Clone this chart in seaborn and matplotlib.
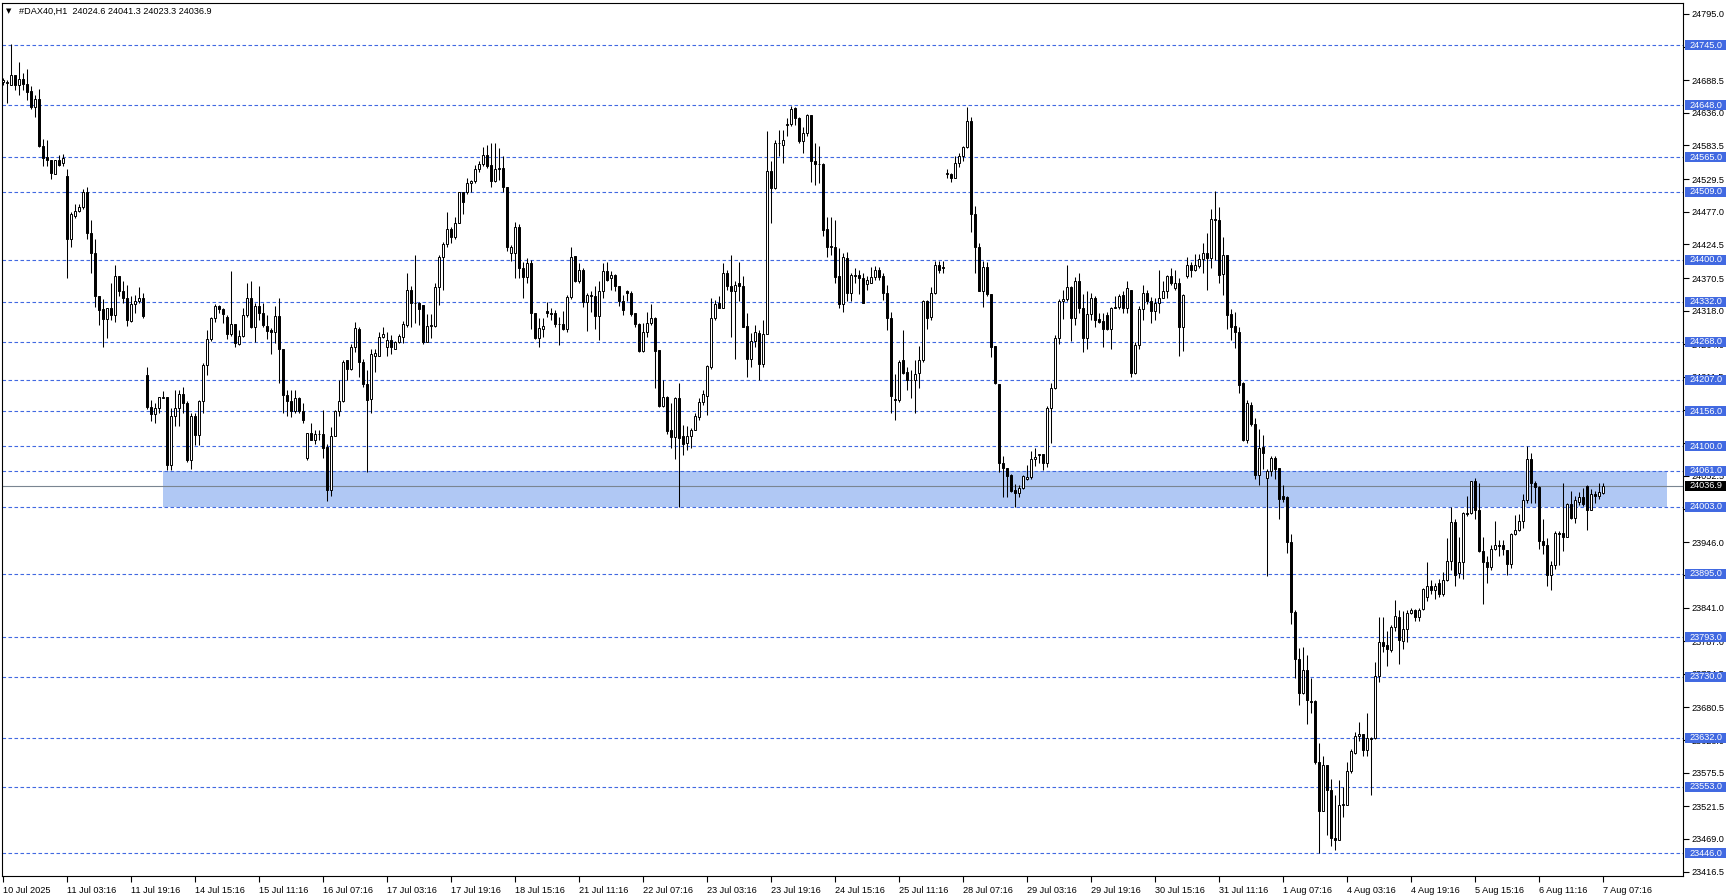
import matplotlib
matplotlib.use("Agg")
import matplotlib.pyplot as plt
import matplotlib.transforms as mtransforms
from matplotlib.patches import Rectangle
import seaborn as sns
import numpy as np
import pandas as pd

# hourly candles, #DAX40 H1 (10 Jul 2025 .. 7 Aug 2025)
opens = [
    24685, 24684, 24681, 24697, 24681, 24690, 24682, 24671, 24645, 24659,
    24582, 24565, 24560, 24538, 24560, 24555, 24534, 24434, 24470, 24479,
    24484, 24509, 24443, 24410, 24341, 24320, 24304, 24322, 24311, 24374,
    24350, 24338, 24302, 24329, 24334, 24338, 24215, 24163, 24152, 24161,
    24177, 24179, 24070, 24148, 24161, 24184, 24169, 24078, 24148, 24118,
    24173, 24231, 24272, 24307, 24326, 24320, 24308, 24280, 24297, 24264,
    24277, 24311, 24338, 24291, 24326, 24315, 24293, 24287, 24284, 24309,
    24256, 24183, 24173, 24156, 24177, 24156, 24082, 24121, 24111, 24120,
    24120, 24099, 24030, 24117, 24156, 24173, 24238, 24225, 24259, 24288,
    24236, 24200, 24176, 24245, 24245, 24275, 24259, 24271, 24257, 24268,
    24276, 24295, 24351, 24330, 24331, 24327, 24268, 24294, 24293, 24356,
    24404, 24425, 24449, 24436, 24459, 24509, 24509, 24524, 24527, 24545,
    24554, 24569, 24552, 24527, 24545, 24547, 24516, 24410, 24410, 24452,
    24386, 24372, 24395, 24314, 24274, 24289, 24318, 24314, 24315, 24296,
    24297, 24288, 24340, 24406, 24366, 24384, 24332, 24344, 24342, 24310,
    24349, 24381, 24370, 24375, 24358, 24334, 24349, 24346, 24314, 24296,
    24254, 24283, 24298, 24307, 24255, 24165, 24180, 24126, 24115, 24177,
    24116, 24105, 24116, 24127, 24147, 24172, 24181, 24228, 24307, 24330,
    24323, 24379, 24358, 24349, 24363, 24357, 24293, 24240, 24270, 24282,
    24233, 24280, 24543, 24515, 24587, 24584, 24616, 24618, 24643, 24627,
    24590, 24604, 24633, 24558, 24554, 24554, 24449, 24422, 24421, 24373,
    24329, 24402, 24346, 24375, 24375, 24370, 24361, 24363, 24372, 24383,
    24374, 24346, 24306, 24176, 24175, 24238, 24220, 24207, 24207, 24218,
    24238, 24333, 24308, 24346, 24391, 24388, 24538, 24538, 24532, 24555,
    24567, 24581, 24623, 24473, 24420, 24349, 24388, 24345, 24261, 24200,
    24073, 24066, 24054, 24030, 24025, 24033, 24047, 24050, 24079, 24086,
    24087, 24074, 24161, 24193, 24274, 24334, 24336, 24356, 24306, 24365,
    24322, 24274, 24313, 24338, 24304, 24302, 24311, 24288, 24323, 24324,
    24343, 24322, 24352, 24218, 24263, 24320, 24346, 24333, 24318, 24330,
    24338, 24349, 24374, 24354, 24363, 24291, 24373, 24391, 24383, 24390,
    24401, 24411, 24402, 24465, 24464, 24377, 24408, 24313, 24294, 24284,
    24201, 24110, 24167, 24136, 24054, 24099, 24049, 24060, 24081, 24066,
    24020, 24018, 23947, 23833, 23758, 23704, 23740, 23691, 23691, 23593,
    23514, 23588, 23547, 23471, 23468, 23523, 23524, 23578, 23607, 23634,
    23638, 23612, 23632, 23631, 23731, 23786, 23781, 23772, 23810, 23826,
    23787, 23806, 23832, 23837, 23825, 23839, 23858, 23875, 23869, 23880,
    23862, 23885, 23916, 23978, 23896, 23914, 23993, 23993, 24045, 23998,
    23932, 23914, 23906, 23935, 23941, 23941, 23934, 23911, 23959, 23966,
    23980, 24013, 24079, 24041, 24034, 23948, 23941, 23894, 23909, 23961,
    23961, 23955, 24007, 23985, 24011, 24018, 24036, 23998, 24023, 24020, 24024.6,
]
highs = [
    24692, 24689, 24746, 24697, 24717, 24700, 24706, 24679, 24665, 24674,
    24594, 24592, 24560, 24560, 24568, 24570, 24545, 24476, 24490, 24490,
    24513, 24517, 24464, 24434, 24341, 24336, 24322, 24362, 24391, 24374,
    24365, 24359, 24341, 24343, 24356, 24346, 24228, 24175, 24170, 24179,
    24189, 24179, 24161, 24191, 24191, 24195, 24173, 24153, 24154, 24175,
    24234, 24287, 24308, 24329, 24327, 24322, 24311, 24382, 24297, 24287,
    24322, 24362, 24366, 24330, 24357, 24330, 24311, 24290, 24325, 24338,
    24256, 24191, 24190, 24190, 24180, 24169, 24121, 24137, 24126, 24127,
    24158, 24103, 24131, 24158, 24206, 24239, 24239, 24265, 24300, 24292,
    24241, 24222, 24256, 24257, 24284, 24291, 24284, 24279, 24269, 24280,
    24302, 24378, 24357, 24408, 24332, 24327, 24313, 24313, 24363, 24408,
    24429, 24477, 24453, 24469, 24509, 24509, 24532, 24528, 24552, 24558,
    24581, 24584, 24587, 24588, 24579, 24566, 24517, 24424, 24460, 24458,
    24397, 24402, 24400, 24315, 24306, 24306, 24332, 24323, 24319, 24308,
    24318, 24343, 24421, 24406, 24394, 24386, 24347, 24349, 24358, 24366,
    24394, 24397, 24381, 24377, 24358, 24343, 24352, 24349, 24314, 24299,
    24299, 24316, 24329, 24308, 24255, 24207, 24181, 24169, 24180, 24201,
    24134, 24133, 24130, 24154, 24177, 24191, 24231, 24338, 24335, 24342,
    24394, 24383, 24407, 24365, 24397, 24374, 24315, 24282, 24295, 24287,
    24303, 24607, 24559, 24592, 24609, 24608, 24627, 24647, 24646, 24630,
    24613, 24634, 24633, 24588, 24583, 24555, 24468, 24469, 24464, 24418,
    24410, 24413, 24378, 24386, 24383, 24378, 24373, 24389, 24390, 24389,
    24379, 24359, 24316, 24217, 24239, 24287, 24228, 24223, 24239, 24261,
    24335, 24335, 24356, 24398, 24398, 24398, 24545, 24539, 24566, 24572,
    24582, 24646, 24629, 24486, 24426, 24398, 24397, 24345, 24261, 24200,
    24085, 24066, 24056, 24039, 24038, 24054, 24070, 24093, 24097, 24088,
    24087, 24165, 24201, 24279, 24336, 24352, 24391, 24357, 24372, 24378,
    24345, 24349, 24347, 24342, 24315, 24315, 24316, 24324, 24342, 24345,
    24350, 24365, 24352, 24268, 24326, 24359, 24352, 24340, 24338, 24383,
    24365, 24375, 24386, 24383, 24370, 24345, 24405, 24397, 24409, 24409,
    24427, 24443, 24481, 24510, 24485, 24436, 24408, 24321, 24316, 24291,
    24203, 24174, 24171, 24145, 24128, 24119, 24063, 24084, 24084, 24066,
    24038, 24020, 23959, 23837, 23776, 23777, 23765, 23727, 23693, 23623,
    23602, 23588, 23566, 23540, 23564, 23552, 23593, 23614, 23641, 23657,
    23638, 23672, 23633, 23754, 23826, 23826, 23804, 23813, 23853, 23837,
    23835, 23837, 23840, 23839, 23840, 23873, 23914, 23885, 23880, 23887,
    23898, 23952, 24002, 23983, 23954, 23995, 24020, 24045, 24049, 24041,
    23954, 23923, 23942, 23980, 23949, 23949, 23934, 23961, 23990, 23991,
    24023, 24100, 24090, 24045, 24036, 23983, 23952, 23916, 23964, 23964,
    24041, 24009, 24028, 24020, 24026, 24033, 24038, 24031, 24029, 24041, 24041.3,
]
lows = [
    24680, 24651, 24680, 24673, 24665, 24673, 24656, 24642, 24629, 24581,
    24550, 24550, 24529, 24538, 24550, 24550, 24370, 24421, 24467, 24477,
    24482, 24434, 24378, 24324, 24295, 24259, 24274, 24303, 24300, 24341,
    24330, 24293, 24300, 24314, 24330, 24306, 24160, 24140, 24137, 24153,
    24177, 24062, 24062, 24132, 24132, 24154, 24075, 24064, 24102, 24102,
    24153, 24215, 24270, 24300, 24314, 24298, 24272, 24278, 24259, 24263,
    24275, 24308, 24290, 24268, 24303, 24292, 24272, 24249, 24266, 24201,
    24153, 24148, 24147, 24153, 24153, 24138, 24078, 24111, 24103, 24111,
    24082, 24012, 24020, 24116, 24148, 24172, 24207, 24222, 24252, 24212,
    24195, 24059, 24154, 24220, 24245, 24274, 24245, 24248, 24256, 24266,
    24266, 24291, 24292, 24298, 24295, 24264, 24267, 24274, 24291, 24327,
    24351, 24420, 24427, 24434, 24459, 24474, 24505, 24508, 24524, 24541,
    24551, 24547, 24517, 24525, 24528, 24509, 24414, 24398, 24370, 24370,
    24339, 24363, 24288, 24272, 24260, 24276, 24308, 24303, 24292, 24263,
    24287, 24284, 24336, 24364, 24363, 24324, 24286, 24316, 24288, 24271,
    24338, 24366, 24352, 24349, 24326, 24311, 24333, 24309, 24291, 24252,
    24252, 24275, 24295, 24193, 24164, 24164, 24120, 24098, 24079, 24003,
    24086, 24094, 24097, 24127, 24142, 24166, 24150, 24225, 24303, 24322,
    24322, 24351, 24276, 24241, 24334, 24291, 24212, 24228, 24260, 24206,
    24228, 24280, 24459, 24513, 24566, 24556, 24598, 24615, 24616, 24588,
    24571, 24599, 24525, 24520, 24523, 24438, 24404, 24408, 24362, 24322,
    24316, 24334, 24334, 24362, 24345, 24330, 24351, 24362, 24367, 24368,
    24335, 24287, 24154, 24142, 24172, 24216, 24190, 24177, 24154, 24193,
    24236, 24288, 24303, 24345, 24378, 24378, 24531, 24525, 24532, 24549,
    24558, 24579, 24445, 24379, 24349, 24324, 24342, 24244, 24200, 24059,
    24018, 24019, 24026, 24003, 24018, 24031, 24046, 24048, 24068, 24074,
    24062, 24067, 24105, 24192, 24264, 24304, 24334, 24270, 24295, 24315,
    24251, 24257, 24303, 24292, 24298, 24259, 24287, 24257, 24322, 24320,
    24314, 24315, 24211, 24217, 24256, 24303, 24329, 24299, 24303, 24315,
    24338, 24338, 24359, 24351, 24245, 24254, 24370, 24372, 24381, 24386,
    24379, 24352, 24386, 24400, 24363, 24343, 24289, 24271, 24258, 24185,
    24108, 24106, 24133, 24047, 24038, 24063, 23891, 24052, 24047, 23984,
    24010, 23928, 23815, 23727, 23684, 23702, 23654, 23671, 23589, 23446,
    23514, 23476, 23458, 23451, 23468, 23504, 23524, 23575, 23605, 23626,
    23602, 23603, 23540, 23629, 23722, 23770, 23747, 23769, 23804, 23751,
    23775, 23786, 23830, 23820, 23820, 23837, 23851, 23863, 23855, 23858,
    23860, 23883, 23901, 23875, 23889, 23887, 23988, 23991, 23983, 23930,
    23847, 23880, 23901, 23933, 23923, 23925, 23894, 23904, 23957, 23964,
    23968, 24009, 24009, 24009, 23935, 23927, 23875, 23869, 23903, 23909,
    23932, 23955, 23984, 23977, 24006, 24004, 23966, 23997, 24009, 24016, 24023.3,
]
closes = [
    24688, 24685, 24697, 24681, 24690, 24682, 24670, 24645, 24659, 24582,
    24563, 24560, 24539, 24560, 24552, 24564, 24434, 24473, 24479, 24484,
    24509, 24443, 24410, 24341, 24319, 24304, 24322, 24311, 24374, 24350,
    24338, 24303, 24329, 24334, 24338, 24310, 24163, 24152, 24161, 24179,
    24180, 24070, 24148, 24161, 24184, 24169, 24078, 24148, 24118, 24173,
    24231, 24272, 24307, 24326, 24320, 24313, 24280, 24297, 24266, 24277,
    24311, 24338, 24291, 24326, 24315, 24295, 24286, 24284, 24309, 24256,
    24183, 24173, 24156, 24177, 24156, 24142, 24121, 24111, 24120, 24120,
    24098, 24030, 24117, 24156, 24173, 24236, 24225, 24259, 24290, 24236,
    24200, 24175, 24248, 24250, 24275, 24280, 24271, 24259, 24267, 24277,
    24297, 24352, 24330, 24331, 24320, 24268, 24294, 24295, 24356, 24404,
    24425, 24449, 24436, 24459, 24509, 24493, 24524, 24527, 24545, 24554,
    24569, 24551, 24527, 24545, 24548, 24516, 24420, 24420, 24452, 24386,
    24372, 24394, 24314, 24274, 24290, 24293, 24314, 24313, 24296, 24297,
    24288, 24340, 24404, 24366, 24384, 24332, 24343, 24342, 24310, 24349,
    24381, 24368, 24375, 24357, 24334, 24319, 24346, 24312, 24296, 24254,
    24283, 24298, 24307, 24254, 24165, 24180, 24125, 24115, 24177, 24113,
    24104, 24116, 24127, 24148, 24172, 24184, 24229, 24307, 24329, 24323,
    24379, 24357, 24349, 24360, 24357, 24292, 24240, 24270, 24283, 24233,
    24280, 24543, 24515, 24587, 24588, 24592, 24618, 24642, 24627, 24590,
    24604, 24633, 24558, 24554, 24553, 24448, 24421, 24420, 24372, 24329,
    24404, 24346, 24375, 24374, 24370, 24331, 24367, 24372, 24384, 24372,
    24346, 24306, 24181, 24175, 24236, 24218, 24207, 24206, 24217, 24238,
    24334, 24306, 24346, 24391, 24383, 24386, 24539, 24532, 24555, 24567,
    24581, 24623, 24473, 24420, 24349, 24388, 24345, 24259, 24201, 24074,
    24066, 24052, 24029, 24025, 24033, 24052, 24051, 24079, 24083, 24087,
    24074, 24161, 24193, 24274, 24334, 24336, 24356, 24306, 24365, 24322,
    24274, 24313, 24338, 24303, 24300, 24288, 24288, 24322, 24324, 24342,
    24322, 24354, 24218, 24263, 24320, 24346, 24333, 24318, 24330, 24338,
    24349, 24374, 24362, 24363, 24291, 24343, 24391, 24383, 24391, 24401,
    24411, 24402, 24465, 24464, 24375, 24408, 24311, 24291, 24284, 24199,
    24110, 24169, 24136, 24054, 24097, 24090, 24060, 24081, 24064, 24016,
    24016, 23947, 23833, 23758, 23704, 23740, 23693, 23689, 23593, 23514,
    23588, 23547, 23471, 23468, 23523, 23526, 23578, 23611, 23634, 23638,
    23612, 23631, 23629, 23731, 23786, 23779, 23774, 23810, 23827, 23789,
    23806, 23832, 23837, 23825, 23837, 23870, 23875, 23869, 23875, 23862,
    23885, 23916, 23978, 23894, 23914, 23993, 23992, 24045, 23998, 23932,
    23914, 23906, 23935, 23941, 23940, 23935, 23911, 23959, 23966, 23980,
    24013, 24079, 24041, 24034, 23948, 23941, 23894, 23909, 23961, 23959,
    23955, 24007, 23985, 24013, 24018, 24007, 23997, 24023, 24021, 24027, 24036.9,
]

# horizontal support / resistance levels drawn on the chart
levels = [24745, 24648, 24565, 24509, 24400, 24332, 24268, 24207, 24156,
          24100, 24061, 24003, 23895, 23793, 23730, 23632, 23553, 23446]
zone_low, zone_high = 24003, 24061
zone_start, zone_end = 40, 416
last_price = 24036.9

price_ticks = [24795.0, 24742.5, 24688.5, 24636.0, 24583.5, 24529.5, 24477.0,
               24424.5, 24370.5, 24318.0, 24264.0, 24211.5, 24159.0, 24105.0,
               24052.5, 24000.0, 23946.0, 23893.5, 23841.0, 23787.0, 23734.5,
               23680.5, 23628.0, 23575.5, 23521.5, 23469.0, 23416.5]
time_labels = ["10 Jul 2025", "11 Jul 03:16", "11 Jul 19:16", "14 Jul 15:16",
               "15 Jul 11:16", "16 Jul 07:16", "17 Jul 03:16", "17 Jul 19:16",
               "18 Jul 15:16", "21 Jul 11:16", "22 Jul 07:16", "23 Jul 03:16",
               "23 Jul 19:16", "24 Jul 15:16", "25 Jul 11:16", "28 Jul 07:16",
               "29 Jul 03:16", "29 Jul 19:16", "30 Jul 15:16", "31 Jul 11:16",
               "1 Aug 07:16", "4 Aug 03:16", "4 Aug 19:16", "5 Aug 15:16",
               "6 Aug 11:16", "7 Aug 07:16"]
time_step = 16

df = pd.DataFrame({"open": opens, "high": highs, "low": lows, "close": closes})
df["bar"] = np.arange(len(df))
df["bull"] = df["close"] >= df["open"]

sns.set_theme(style="white")
plt.rcParams["font.family"] = ["Liberation Sans", "DejaVu Sans"]
FS = 6.6
LEVEL_BLUE = "#4169E1"

W, H = 1729, 896
fig = plt.figure(figsize=(W / 100, H / 100), dpi=100)
fig.patch.set_facecolor("white")
ax = fig.add_axes([2 / W, 20 / H, 1681 / W, 873 / H])
ax.set_facecolor("white")

# zone rectangle
ax.fill_between([zone_start, zone_end], zone_low, zone_high,
                color="#B0C8F4", lw=0, zorder=0.5)

# level lines
for lv in levels:
    ax.axhline(lv, color=LEVEL_BLUE, lw=0.8, ls=(0, (3.2, 2.2)), zorder=1)

# bid line
ax.axhline(last_price, color="#7A8591", lw=0.8, zorder=1.2)

# candles
ax.vlines(df["bar"], df["low"], df["high"], color="black", lw=0.75, zorder=2)
body_lo = df[["open", "close"]].min(axis=1)
body_h = (df["close"] - df["open"]).abs()
ax.bar(df["bar"], body_h, bottom=body_lo, width=0.55,
       color=np.where(df["bull"], "white", "black"),
       edgecolor="black", linewidth=0.7, zorder=3)

ax.set_xlim(-0.25, 420)
ax.set_ylim(23409.5, 24812.5)

# axes styling
for sp in ax.spines.values():
    sp.set_color("black")
    sp.set_linewidth(0.8)
    sp.set_visible(True)
ax.grid(False)
ax.yaxis.tick_right()
ax.set_yticks(price_ticks)
ax.set_yticklabels([f"{v:.1f}" for v in price_ticks])
ax.tick_params(axis="y", which="both", right=True, left=False, direction="out",
               length=4, width=0.8, pad=2, labelsize=FS, colors="black")
xt = [i * time_step for i in range(len(time_labels))]
ax.set_xticks(xt)
ax.set_xticklabels(time_labels)
ax.tick_params(axis="x", which="both", bottom=True, direction="out",
               length=4, width=0.8, pad=3, labelsize=FS, colors="black")
for lbl in ax.get_xticklabels():
    lbl.set_ha("left")

# price labels on the right scale
trans = mtransforms.blended_transform_factory(ax.transAxes, ax.transData)
half = 5 * (24812.5 - 23409.5) / 873
bx0 = 1.0 + 2 / 1681
bw = 41 / 1681
for lv in levels:
    ax.add_patch(Rectangle((bx0, lv - half), bw, 2 * half, transform=trans,
                           facecolor=LEVEL_BLUE, edgecolor="none",
                           clip_on=False, zorder=5))
    ax.text(1.0 + 6 / 1681, lv, f"{lv:.1f}", transform=trans, ha="left",
            va="center", color="white", fontsize=FS, clip_on=False, zorder=6)
ax.add_patch(Rectangle((bx0, last_price - half), bw, 2 * half, transform=trans,
                       facecolor="black", edgecolor="none",
                       clip_on=False, zorder=7))
ax.text(1.0 + 6 / 1681, last_price, f"{last_price:.1f}", transform=trans,
        ha="left", va="center", color="white", fontsize=FS, clip_on=False,
        zorder=8)

# header
fig.text(6 / W, 1 - 11 / H, "\u25bc", fontsize=5, color="black",
         ha="left", va="center", family=["DejaVu Sans"])
fig.text(19 / W, 1 - 11 / H,
         f"#DAX40,H1  {opens[-1]:.1f} {highs[-1]:.1f} {lows[-1]:.1f} {closes[-1]:.1f}",
         fontsize=FS, color="black", ha="left", va="center")

fig.savefig("out.png", dpi=100, facecolor="white")
plt.close(fig)
